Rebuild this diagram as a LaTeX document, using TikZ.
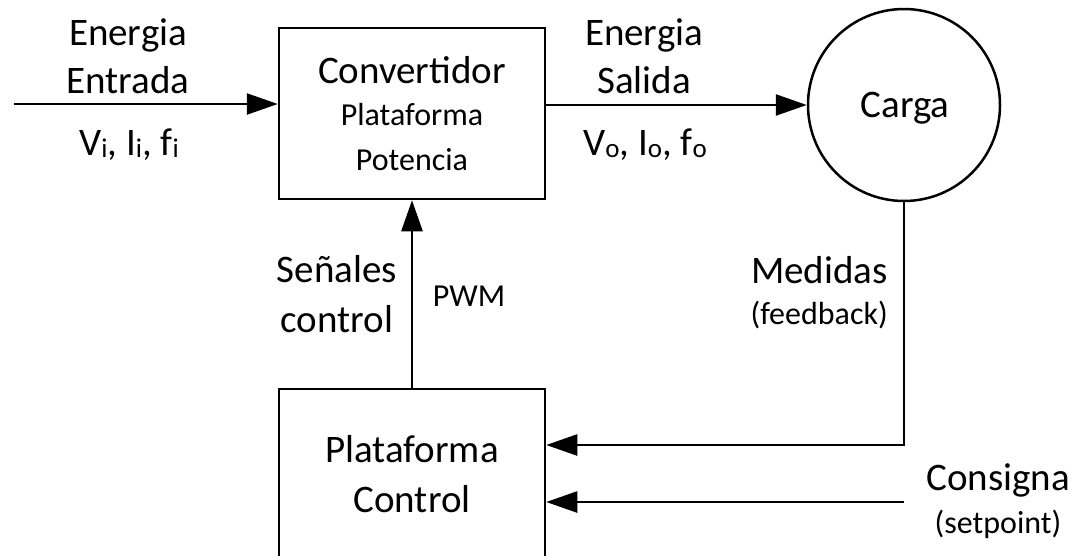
\documentclass[tikz,border=0pt]{standalone}
\usepackage{fontspec}
\setmainfont{Carlito}
\usetikzlibrary{arrows.meta}
\newcommand{\lgf}{\fontsize{39}{47}\selectfont}
\newcommand{\smf}{\fontsize{32}{40}\selectfont}
\newcommand{\sbs}[1]{\raisebox{-2pt}{\fontsize{27}{27}\selectfont #1}}
\tikzset{
  lbl/.style={anchor=base, inner sep=0pt, font=\lgf},
  slbl/.style={anchor=base, inner sep=0pt, font=\smf},
  blk/.style={draw, line width=2.5pt, inner sep=0pt},
  conn/.style={line width=2.5pt},
  arr/.style={conn, -{Triangle[length=31pt,width=21pt]}}
}
\begin{document}
\begin{tikzpicture}[x=1pt,y=-1pt]
\clip (0,0) rectangle (1076,555);
\fill[white] (0,0) rectangle (1076,555);
% blocks
\node[blk, minimum width=266pt, minimum height=171pt] (conv) at (412,113.5) {};
\node[blk, circle, minimum size=192pt] (carga) at (904,105) {};
\node[blk, minimum width=266pt, minimum height=231pt] (ctrl) at (412,504.5) {};
% block texts
\node[lbl] (tconv) at (412,83) {Convertidor};
\node[slbl] (tplat) at (412,125) {Plataforma};
\node[slbl] (tpot) at (412,170) {Potencia};
\node[lbl] (tcarga) at (905,117) {Carga};
\node[lbl] (tpc1) at (412,462) {Plataforma};
\node[lbl] (tpc2) at (412,512) {Control};
% input
\coordinate (in) at (14,104);
\draw[arr] (in) -- (in -| conv.west);
\node[lbl] (ei1) at (128,45) {Energia};
\node[lbl] (ei2) at (128,93) {Entrada};
\node[lbl] (vi) at (129,155) {V\sbs{i}, I\sbs{i}, f\sbs{i}};
% output
\draw[arr] (conv.east |- carga.west) -- (carga.west);
\node[lbl] (eo1) at (644,45) {Energia};
\node[lbl] (eo2) at (644,93) {Salida};
\node[lbl] (vo) at (645,155) {V\sbs{o}, I\sbs{o}, f\sbs{o}};
% control signals
\draw[arr] (ctrl.north) -- (conv.south);
\node[lbl] (sen1) at (337,282) {Señales};
\node[lbl] (sen2) at (337,332) {control};
\node[slbl] (pwm) at (469,306) {PWM};
% feedback
\coordinate (fb) at (904,445);
\draw[arr] (carga.south) -- (fb) -- (fb -| ctrl.east);
\node[lbl, anchor=base east] (med1) at (888,283) {Medidas};
\node[slbl, anchor=base east] (med2) at (888,324) {(feedback)};
% setpoint
\coordinate (sp) at (904,502);
\draw[arr] (sp) -- (sp -| ctrl.east);
\node[lbl] (con1) at (998,490) {Consigna};
\node[slbl] (con2) at (998,533) {(setpoint)};
\end{tikzpicture}
\end{document}
